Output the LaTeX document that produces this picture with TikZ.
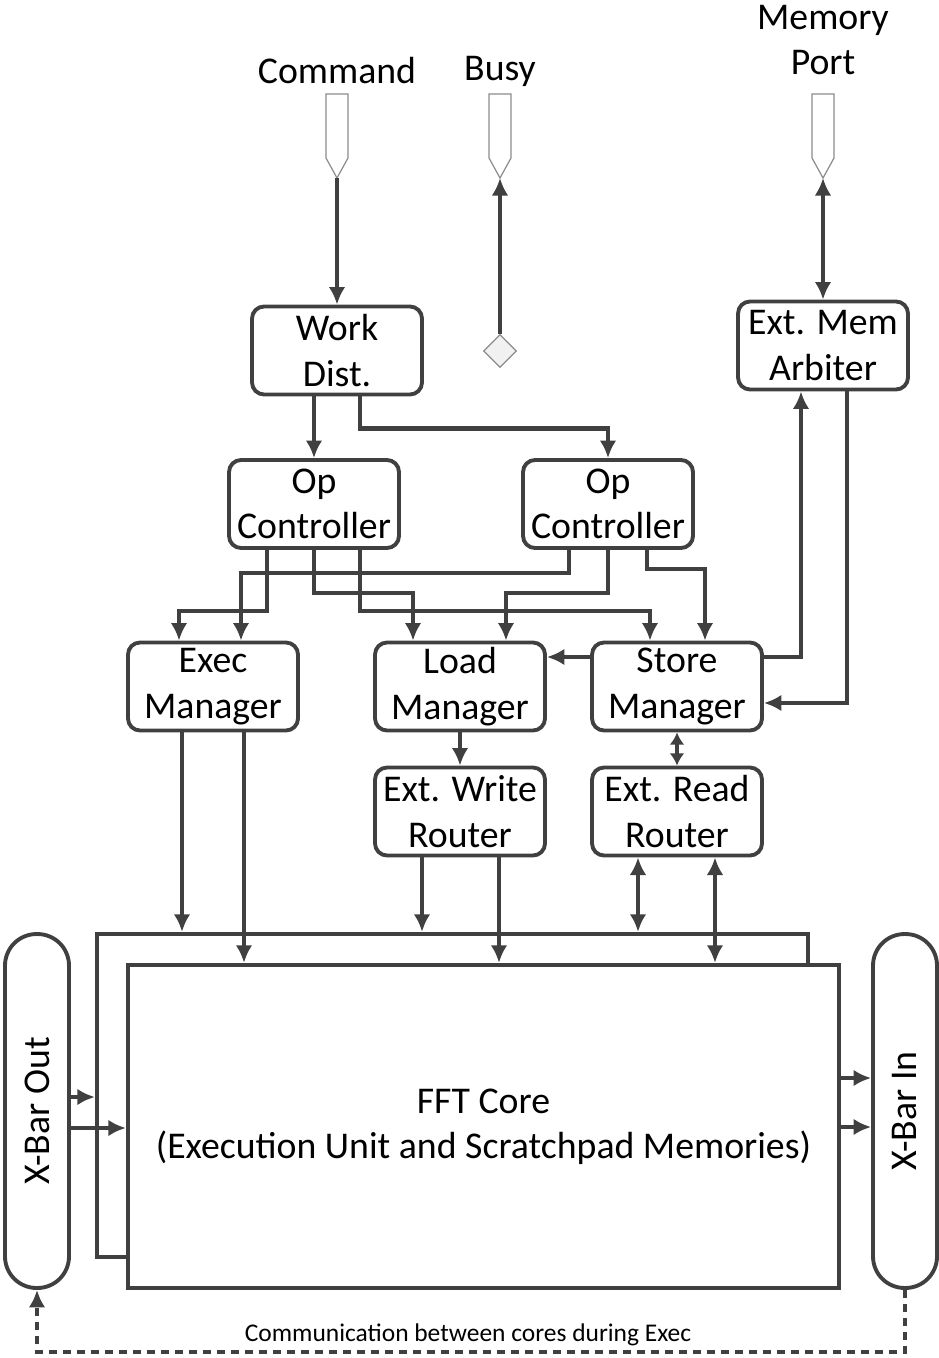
\documentclass[tikz,border=0pt]{standalone}
\usepackage{fontspec}
\setmainfont{Carlito}
\usetikzlibrary{arrows.meta,shapes.geometric}
\definecolor{ln}{HTML}{404040}
\definecolor{pt}{HTML}{8C8C8C}

\begin{document}
\begin{tikzpicture}[x=0.02cm,y=-0.02cm,
	font=\fontsize{21.5}{25.8}\selectfont,
	>={Latex[length=10pt,width=9.5pt]},
	blk/.style={draw=ln,line width=2.2pt,rounded corners=0.24cm,minimum width=3.4cm,minimum height=1.76cm,align=center,inner sep=0pt},
	wire/.style={draw=ln,line width=2.7pt},
	corebox/.style={draw=ln,line width=2.5pt,minimum width=14.22cm,minimum height=6.46cm,align=center},
	pill/.style={draw=ln,line width=2.2pt,rounded corners=0.63cm,minimum width=1.28cm,minimum height=7.08cm},
	portline/.style={draw=pt,line width=0.7pt}]
	\useasboundingbox (0,0) rectangle (938,1358);
	% input / output ports
	\foreach \px/\pn in {337/cmd,500/bsyp,823/memp}
	{
		\draw[portline] (\px-11,94) -- (\px+11,94) -- (\px+11,158) -- (\px,178) -- (\px-11,158) -- cycle;
		\coordinate (\pn) at (\px,178);
	}
	\node (cmdlbl) at (337,71) {Command};
	\node (bsylbl) at (500,71) {Busy};
	\node[align=center] (memlbl) at (823,40) {Memory\\Port};
	\node[diamond,draw=pt,fill=pt!12,line width=0.7pt,minimum size=0.66cm,inner sep=0pt] (bsy) at (500,351) {};
	% control blocks
	\node[blk] (wd) at (337,350.5) {Work\\Dist.};
	\node[blk] (arb) at (823,345.5) {Ext. Mem\\Arbiter};
	\node[blk] (opA) at (314,504) {Op\\Controller};
	\node[blk] (opB) at (608,504) {Op\\Controller};
	\node[blk] (exec) at (213,686.5) {Exec\\Manager};
	\node[blk] (load) at (460,686.5) {Load\\Manager};
	\node[blk] (store) at (677,686.5) {Store\\Manager};
	\node[blk] (wrt) at (460,811.5) {Ext. Write\\Router};
	\node[blk] (rdr) at (677,811.5) {Ext. Read\\Router};
	% core and crossbars
	\node[corebox] (coreb) at (452.5,1095.5) {};
	\node[corebox,fill=white] (core) at (483.5,1126.5) {FFT Core\\(Execution Unit and Scratchpad Memories)};
	\node[pill,label={[rotate=90]center:X-Bar Out}] (xout) at (37,1111) {};
	\node[pill,label={[rotate=90]center:X-Bar In}] (xin) at (905,1111) {};
	% top connections
	\draw[wire,->] (cmd) -- (wd.north);
	\draw[wire,->] (bsy.north) -- (bsyp);
	\draw[wire,<->] (memp) -- (arb.north);
	\draw[wire,->] (opA.north |- wd.south) -- (opA.north);
	\draw[wire,->] ([xshift=0.46cm]wd.south) -- ++(0,32) -| (opB.north);
	% op controllers to managers
	\draw[wire,->] ([xshift=-0.94cm]opA.south) -- ++(0,61) -| ([xshift=-0.68cm]exec.north);
	\draw[wire,->] (opA.south) -- ++(0,43) -| ([xshift=-0.94cm]load.north);
	\draw[wire,->] ([xshift=0.92cm]opA.south) -- ++(0,61) -| ([xshift=-0.54cm]store.north);
	\draw[wire,->] ([xshift=-0.78cm]opB.south) -- ++(0,23) -| ([xshift=0.56cm]exec.north);
	\draw[wire,->] (opB.south) -- ++(0,43) -| ([xshift=0.92cm]load.north);
	\draw[wire,->] ([xshift=0.78cm]opB.south) -- ++(0,19) -| ([xshift=0.56cm]store.north);
	% managers
	\draw[wire,->] ([yshift=0.59cm]store.west) -- ([yshift=0.59cm]load.east);
	\draw[wire,->] ([yshift=0.59cm]store.east) -| ([xshift=-0.44cm]arb.south);
	\draw[wire,->] ([xshift=0.48cm]arb.south) |- ([yshift=-0.33cm]store.east);
	\draw[wire,->] (load) -- (wrt);
	\draw[wire,>={Latex[length=7pt,width=8.5pt]},<->] (store) -- (rdr);
	% into the core
	\draw[wire,->] ([xshift=-0.62cm]exec.south) -- ([xshift=-0.62cm]exec.south |- coreb.north);
	\draw[wire,->] ([xshift=0.62cm]exec.south) -- ([xshift=0.62cm]exec.south |- core.north);
	\draw[wire,->] ([xshift=-0.76cm]wrt.south) -- ([xshift=-0.76cm]wrt.south |- coreb.north);
	\draw[wire,->] ([xshift=0.78cm]wrt.south) -- ([xshift=0.78cm]wrt.south |- core.north);
	\draw[wire,<->] ([xshift=-0.78cm]rdr.south) -- ([xshift=-0.78cm]rdr.south |- coreb.north);
	\draw[wire,<->] ([xshift=0.76cm]rdr.south) -- ([xshift=0.76cm]rdr.south |- core.north);
	% crossbars
	\draw[wire,->] ([yshift=0.28cm]xout.east) -- ([yshift=0.28cm]xout.east -| coreb.west);
	\draw[wire,->] ([yshift=-0.34cm]xout.east) -- ([yshift=-0.34cm]xout.east -| core.west);
	\draw[wire,->] ([yshift=0.66cm]xin.west -| core.east) -- ([yshift=0.66cm]xin.west);
	\draw[wire,->] ([yshift=-0.32cm]xin.west -| core.east) -- ([yshift=-0.32cm]xin.west);
	\draw[draw=ln,line width=2.2pt,dash pattern=on 0.16cm off 0.12cm,->] (xin.south) -- ++(0,62) -| (xout.south);
	\node[font=\fontsize{14.5}{17}\selectfont] (comm) at (468,1335) {Communication between cores during Exec};
\end{tikzpicture}
\end{document}
